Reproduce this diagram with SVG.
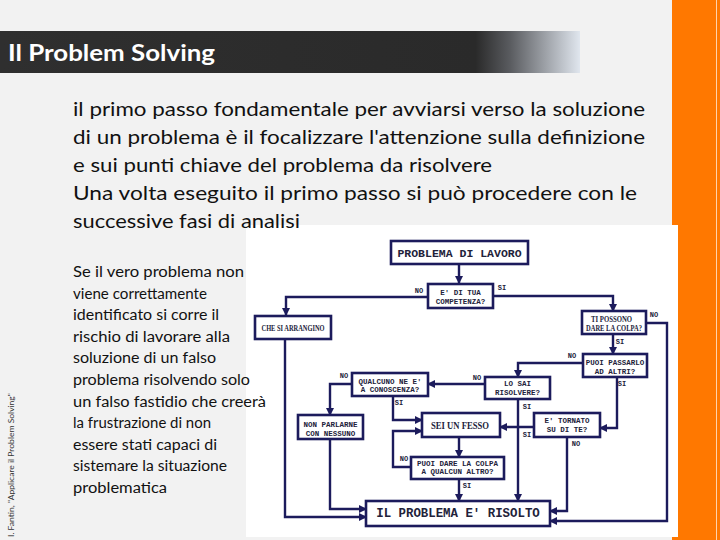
<svg xmlns="http://www.w3.org/2000/svg" width="720" height="540" viewBox="0 0 720 540">
<defs>
<linearGradient id="tg" gradientUnits="userSpaceOnUse" x1="0" y1="0" x2="580" y2="0">
<stop offset="0" stop-color="#2f2f2f"/>
<stop offset="0.82" stop-color="#2a2a2a"/>
<stop offset="0.88" stop-color="#5a5c60"/>
<stop offset="1" stop-color="#e0e6ee"/>
</linearGradient>
<marker id="ah" markerUnits="userSpaceOnUse" markerWidth="8" markerHeight="8" refX="7" refY="4" orient="auto">
<path d="M0,0 L8,4 L0,8 z" fill="#1c1b5c"/>
</marker>
<style>
.main{font-family:Lato,"Open Sans",sans-serif;font-size:20px;fill:#111}
.side{font-family:Lato,"Open Sans",sans-serif;font-size:15.5px;fill:#111}
.box{fill:#fff;stroke:#1c1b5c;stroke-width:2.6}
.m{font-family:"Liberation Mono",monospace;font-weight:bold;font-size:7.5px;fill:#22223a;text-anchor:middle}
.t{font-family:"Liberation Serif",serif;font-weight:bold;font-size:7.8px;fill:#22223a;text-anchor:middle}
.lb{font-family:"Liberation Mono",monospace;font-weight:bold;font-size:7px;fill:#22223a;text-anchor:middle}
.c{fill:none;stroke:#1c1b5c;stroke-width:2.4;marker-end:url(#ah)}
</style>
</defs>
<rect x="0" y="0" width="720" height="540" fill="#f2f2f2"/>
<rect x="672" y="0" width="48" height="540" fill="#ff7800"/>
<line x1="716.5" y1="0" x2="716.5" y2="540" stroke="#ffd2ac" stroke-width="1"/>
<g id="title">
<rect x="0" y="31" width="580" height="42" fill="url(#tg)"/>
<text x="8" y="61" font-family="Lato,'Open Sans',sans-serif" font-weight="bold" font-size="23" fill="#fff" textLength="207" lengthAdjust="spacingAndGlyphs">Il Problem Solving</text>
</g>
<rect id="chart-bg" x="246" y="225" width="432" height="312" fill="#fff"/>
<g id="intro">
<text class="main" x="73" y="116" textLength="572" lengthAdjust="spacingAndGlyphs">il primo passo fondamentale per avviarsi verso la soluzione</text>
<text class="main" x="73" y="144" textLength="572" lengthAdjust="spacingAndGlyphs">di un problema è il focalizzare l'attenzione sulla definizione</text>
<text class="main" x="73" y="172" textLength="419" lengthAdjust="spacingAndGlyphs">e sui punti chiave del problema da risolvere</text>
<text class="main" x="73" y="200" textLength="564" lengthAdjust="spacingAndGlyphs">Una volta eseguito il primo passo si può procedere con le</text>
<text class="main" x="73" y="228" textLength="227" lengthAdjust="spacingAndGlyphs">successive fasi di analisi</text>
</g>
<g id="side-note">
<text class="side" x="73" y="277" textLength="171" lengthAdjust="spacingAndGlyphs">Se il vero problema non</text>
<text class="side" x="73" y="298.6" textLength="134" lengthAdjust="spacingAndGlyphs">viene correttamente</text>
<text class="side" x="73" y="320.2" textLength="146" lengthAdjust="spacingAndGlyphs">identificato si corre il</text>
<text class="side" x="73" y="341.8" textLength="157" lengthAdjust="spacingAndGlyphs">rischio di lavorare alla</text>
<text class="side" x="73" y="363.4" textLength="143" lengthAdjust="spacingAndGlyphs">soluzione di un falso</text>
<text class="side" x="73" y="385" textLength="177" lengthAdjust="spacingAndGlyphs">problema risolvendo solo</text>
<text class="side" x="73" y="406.6" textLength="193" lengthAdjust="spacingAndGlyphs">un falso fastidio che creerà</text>
<text class="side" x="73" y="428.2" textLength="138" lengthAdjust="spacingAndGlyphs">la frustrazione di non</text>
<text class="side" x="73" y="449.8" textLength="144" lengthAdjust="spacingAndGlyphs">essere stati capaci di</text>
<text class="side" x="73" y="471.4" textLength="154" lengthAdjust="spacingAndGlyphs">sistemare la situazione</text>
<text class="side" x="73" y="493" textLength="94" lengthAdjust="spacingAndGlyphs">problematica</text>
</g>
<text id="credit" transform="translate(14,465) rotate(-90)" text-anchor="middle" font-family="Lato,'Open Sans',sans-serif" font-size="8" fill="#333" textLength="144" lengthAdjust="spacingAndGlyphs">I. Fantin, "Applicare il Problem Solving"</text>
<g id="connectors">
<polyline class="c" points="459,265 459,283"/>
<polyline class="c" points="428,297 286,297 286,315"/>
<polyline class="c" points="493,296 613,296 613,311"/>
<polyline class="c" points="646,323 667,323 667,521 550,521"/>
<polyline class="c" points="613,334 613,354"/>
<polyline class="c" points="583,363 518,363 518,377"/>
<polyline class="c" points="617,377 617,428 600,428"/>
<polyline class="c" points="485,384 428,384"/>
<polyline class="c" points="518,399 518,501"/>
<polyline class="c" points="534,427 500,427"/>
<polyline class="c" points="567,437 567,511 550,511"/>
<polyline class="c" points="352,384 330,384 330,415"/>
<polyline class="c" points="393,396 393,420 422,420"/>
<polyline class="c" points="459,437 459,457"/>
<polyline class="c" points="411,467 393,467 393,431 422,431"/>
<polyline class="c" points="459,479 459,501"/>
<polyline class="c" points="330,439 330,509 366,509"/>
<polyline class="c" points="285,339 285,517 366,517"/>
<text class="lb" x="419" y="293">NO</text>
<text class="lb" x="502" y="290">SI</text>
<text class="lb" x="654" y="317">NO</text>
<text class="lb" x="620" y="344">SI</text>
<text class="lb" x="572" y="358">NO</text>
<text class="lb" x="622" y="386">SI</text>
<text class="lb" x="477" y="380">NO</text>
<text class="lb" x="527" y="409">SI</text>
<text class="lb" x="527" y="437">SI</text>
<text class="lb" x="576" y="446">NO</text>
<text class="lb" x="344" y="378">NO</text>
<text class="lb" x="399" y="405">SI</text>
<text class="lb" x="404" y="461">NO</text>
<text class="lb" x="467" y="488">SI</text>
</g>
<g id="n-problema">
<rect class="box" x="391" y="241" width="137" height="23"/>
<text class="m" x="459.5" y="256.5" style="font-size:11.5px">PROBLEMA DI LAVORO</text>
</g>
<g id="n-competenza">
<rect class="box" x="428" y="284" width="65" height="24"/>
<text class="m" x="460.5" y="295">E' DI TUA</text>
<text class="m" x="460.5" y="304">COMPETENZA?</text>
</g>
<g id="n-arrangino">
<rect class="box" x="255" y="316" width="76" height="23"/>
<text class="t" x="293" y="330.5" textLength="63" lengthAdjust="spacingAndGlyphs">CHE SI ARRANGINO</text>
</g>
<g id="n-colpa">
<rect class="box" x="582" y="311" width="64" height="23"/>
<text class="t" x="611.5" y="321.5" textLength="41" lengthAdjust="spacingAndGlyphs">TI POSSONO</text>
<text class="t" x="614" y="330.5" textLength="56" lengthAdjust="spacingAndGlyphs">DARE LA COLPA?</text>
</g>
<g id="n-passarlo">
<rect class="box" x="583" y="354" width="64" height="23"/>
<text class="m" x="615" y="364.5">PUOI PASSARLO</text>
<text class="m" x="615" y="373.5">AD ALTRI?</text>
</g>
<g id="n-losai">
<rect class="box" x="485" y="377" width="65" height="22"/>
<text class="m" x="517.5" y="385.5">LO SAI</text>
<text class="m" x="517.5" y="394.5">RISOLVERE?</text>
</g>
<g id="n-qualcuno">
<rect class="box" x="352" y="373" width="76" height="23"/>
<text class="m" x="390" y="383.5">QUALCUNO NE E'</text>
<text class="m" x="390" y="392">A CONOSCENZA?</text>
</g>
<g id="n-nonparlarne">
<rect class="box" x="298" y="415" width="65" height="24"/>
<text class="m" x="330.5" y="426.5">NON PARLARNE</text>
<text class="m" x="330.5" y="435.5">CON NESSUNO</text>
</g>
<g id="n-tornato">
<rect class="box" x="534" y="413" width="66" height="24"/>
<text class="m" x="567" y="422.5">E' TORNATO</text>
<text class="m" x="567" y="431.5">SU DI TE?</text>
</g>
<g id="n-fesso">
<rect class="box" x="422" y="413" width="78" height="24"/>
<text class="t" x="460" y="428.5" style="font-size:9.5px" textLength="58" lengthAdjust="spacingAndGlyphs">SEI UN FESSO</text>
</g>
<g id="n-dare">
<rect class="box" x="411" y="457" width="93" height="22"/>
<text class="m" x="457.5" y="465.5">PUOI DARE LA COLPA</text>
<text class="m" x="457.5" y="474">A QUALCUN ALTRO?</text>
</g>
<g id="n-risolto">
<rect class="box" x="366" y="501" width="184" height="25"/>
<text class="m" x="458" y="517" style="font-size:12.4px">IL PROBLEMA E' RISOLTO</text>
</g>
</svg>
